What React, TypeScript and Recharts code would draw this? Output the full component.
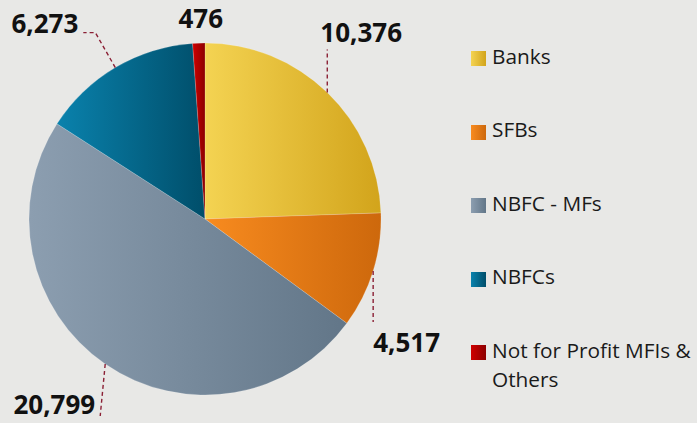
import React from 'react'
import { PieChart, Pie, Cell, Legend } from 'recharts'

const categories = ['Banks', 'SFBs', 'NBFC - MFs', 'NBFCs', 'Not for Profit MFIs & Others']
const values = [10376, 4517, 20799, 6273, 476]
const valueLabels = ['10,376', '4,517', '20,799', '6,273', '476']

const gradients = [
  ['#f4d352', '#d2a41b'],
  ['#f88b1f', '#cd680c'],
  ['#8c9eb0', '#627688'],
  ['#0a82ad', '#004e6a'],
  ['#cf0000', '#8c0000'],
]

// leader line points and text placement, relative to the slice's outer edge at its mid angle
const guides = [
  { line: [[0, 0], [0, -43]], tx: -7, ty: -50, anchor: 'start' },
  { line: [[0, 0], [0, 51]], tx: 0, ty: 81, anchor: 'start' },
  { line: [[0, 0], [-5, 52]], tx: -10, ty: 50, anchor: 'end' },
  { line: [[0, 0], [-20, -35], [-32, -35]], tx: -37, ty: -35, anchor: 'end' },
  { line: [], tx: 2, ty: -15, anchor: 'middle' },
]

const chartData = categories.map((name, i) => ({ name, value: values[i], label: valueLabels[i] }))

const renderLabel = (props: any) => {
  const { cx, cy, midAngle, outerRadius, index } = props
  const rad = (-midAngle * Math.PI) / 180
  const ex = cx + outerRadius * Math.cos(rad)
  const ey = cy + outerRadius * Math.sin(rad)
  const g = guides[index]
  const d = g.line.map((p, i) => `${i === 0 ? 'M' : 'L'}${ex + p[0]},${ey + p[1]}`).join(' ')
  return (
    <g key={`lbl-${index}`}>
      {d && <path d={d} fill="none" stroke="#8b2035" strokeWidth={1.4} strokeDasharray="4 3" />}
      <text
        x={ex + g.tx}
        y={ey + g.ty}
        textAnchor={g.anchor as any}
        fontFamily="'Open Sans', sans-serif"
        fontWeight={700}
        fontSize={26}
        fill="#111"
      >
        {chartData[index].label}
      </text>
    </g>
  )
}

const LegendContent = () => (
  <div style={{ fontFamily: "'Open Sans', sans-serif", fontSize: 20.8, lineHeight: '29px', color: '#1a1a1a' }}>
    {categories.map((name, i) => (
      <div key={name} style={{ display: 'flex', alignItems: 'flex-start', height: 73.5 }}>
        <svg width={15} height={15} style={{ marginTop: 9.5, marginRight: 6, flex: 'none' }}>
          <rect width={15} height={15} fill={`url(#grad-${i})`} />
        </svg>
        <span style={{ width: 210 }}>{name}</span>
      </div>
    ))}
  </div>
)

export default function App() {
  return (
    <div style={{ position: 'absolute', left: 0, top: 0, width: 697, height: 423, background: '#e8e8e6' }}>
      <PieChart width={697} height={423} margin={{ top: 0, right: 0, bottom: 0, left: 0 }}>
        <defs>
          {gradients.map((g, i) => (
            <linearGradient key={i} id={`grad-${i}`} x1="0" y1="0" x2="1" y2="0">
              <stop offset="0%" stopColor={g[0]} />
              <stop offset="100%" stopColor={g[1]} />
            </linearGradient>
          ))}
        </defs>
        <Pie
          data={chartData}
          dataKey="value"
          nameKey="name"
          cx={205}
          cy={219}
          outerRadius={176}
          startAngle={90}
          endAngle={-270}
          stroke="rgba(255,255,255,0.35)"
          strokeWidth={0.5}
          label={renderLabel}
          labelLine={false}
          isAnimationActive={false}
        >
          {chartData.map((entry, index) => (
            <Cell key={`cell-${index}`} fill={`url(#grad-${index})`} />
          ))}
        </Pie>
        <Legend
          layout="vertical"
          align="right"
          verticalAlign="top"
          content={<LegendContent />}
          wrapperStyle={{ position: 'absolute', left: 471, top: 41.5, width: 226 }}
        />
      </PieChart>
    </div>
  )
}
